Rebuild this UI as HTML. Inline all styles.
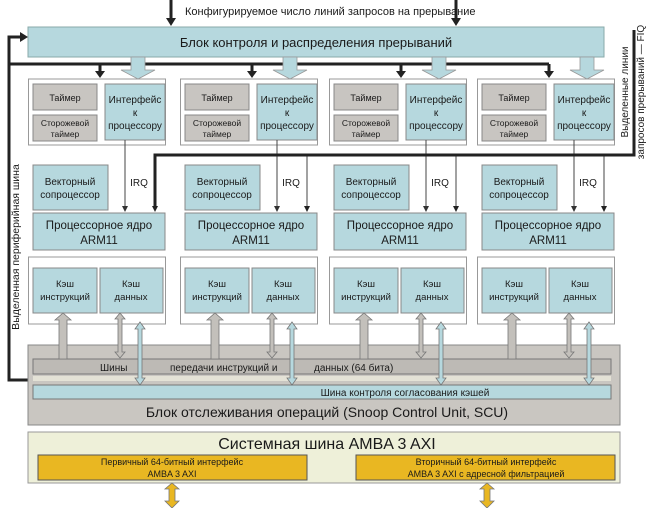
<!DOCTYPE html>
<html><head><meta charset="utf-8"><style>
html,body{margin:0;padding:0;background:#fff}
svg{display:block}
text{font-family:"Liberation Sans","DejaVu Sans",sans-serif;fill:#1a1a1a}
</style></head><body>
<svg width="650" height="508" viewBox="0 0 650 508" xmlns="http://www.w3.org/2000/svg">
<defs>
<g id="u">
<line x1="72" y1="64" x2="72" y2="72" stroke="#222" stroke-width="3"/><polygon points="67,71 77,71 72,78" fill="#222"/>
<polygon points="103,57 117,57 117,70 127,70 110,79 93,70 103,70" fill="#b6d8de" stroke="#999" stroke-width="0.8"/>
<rect x="0.5" y="79" width="137" height="66" fill="#fff" stroke="#999"/>
<rect x="5" y="84" width="64" height="26" fill="#c8c5c1" stroke="#888"/>
<rect x="5" y="115" width="64" height="26" fill="#c8c5c1" stroke="#888"/>
<rect x="77" y="84" width="60" height="56" fill="#b6d8de" stroke="#888"/>
<text x="37" y="101" font-size="9" text-anchor="middle">Таймер</text>
<text x="37" y="126" font-size="8.5" text-anchor="middle">Сторожевой</text>
<text x="37" y="137" font-size="8.5" text-anchor="middle">таймер</text>
<text x="107" y="103" font-size="10" text-anchor="middle">Интерфейс</text>
<text x="107" y="116" font-size="10" text-anchor="middle">к</text>
<text x="107" y="129" font-size="10" text-anchor="middle">процессору</text>
<line x1="97" y1="140" x2="97" y2="207" stroke="#444" stroke-width="1"/><polygon points="94,206 100,206 97,212" fill="#333"/>
<line x1="127" y1="155" x2="127" y2="207" stroke="#444" stroke-width="1"/><polygon points="124,206 130,206 127,212" fill="#222"/>
<text x="111" y="186" font-size="10" text-anchor="middle">IRQ</text>
<rect x="5" y="165" width="75" height="45" fill="#b6d8de" stroke="#888"/>
<text x="42" y="185" font-size="10" text-anchor="middle">Векторный</text>
<text x="42" y="198" font-size="10" text-anchor="middle">сопроцессор</text>
<rect x="5" y="213" width="132" height="37" fill="#b6d8de" stroke="#888"/>
<text x="71" y="229" font-size="11.5" text-anchor="middle">Процессорное ядро</text>
<text x="71" y="244" font-size="11.5" text-anchor="middle">ARM11</text>
<rect x="0.5" y="257" width="137" height="67" fill="#fff" stroke="#999"/>
<rect x="5" y="268" width="64" height="45" fill="#b6d8de" stroke="#888"/>
<rect x="72" y="268" width="63" height="45" fill="#b6d8de" stroke="#888"/>
<text x="37" y="287" font-size="9.5" text-anchor="middle">Кэш</text>
<text x="37" y="300" font-size="9.5" text-anchor="middle">инструкций</text>
<text x="103" y="287" font-size="9.5" text-anchor="middle">Кэш</text>
<text x="103" y="300" font-size="9.5" text-anchor="middle">данных</text>
</g>
<g id="a">
<polygon points="31,320 27,320 35,313 43,320 39,320 39,359 31,359" fill="#c3c0bb" stroke="#777" stroke-width="0.8"/>
<polygon points="90,319 87,319 92,313 97,319 94,319 94,352 97,352 92,358 87,352 90,352" fill="#c3c0bb" stroke="#777" stroke-width="0.8"/>
<polygon points="110,329 107,329 112,322 117,329 114,329 114,378 117,378 112,385 107,378 110,378" fill="#b6d8de" stroke="#777" stroke-width="0.8"/>
</g>
</defs>
<!-- top arrows -->
<line x1="171" y1="0" x2="171" y2="20" stroke="#222" stroke-width="3"/><polygon points="166,18 176,18 171,26" fill="#222"/>
<line x1="456" y1="0" x2="456" y2="20" stroke="#222" stroke-width="3"/><polygon points="451,18 461,18 456,26" fill="#222"/>
<text x="185" y="15" font-size="11">Конфигурируемое число линий запросов на прерывание</text>
<!-- control block -->
<rect x="28" y="27" width="576" height="30" fill="#b6d8de" stroke="#8aa" stroke-width="1"/>
<text x="316" y="47" font-size="13" text-anchor="middle">Блок контроля и распределения прерываний</text>
<!-- left peripheral bus -->
<polyline points="28,380 9,380 9,37 22,37" fill="none" stroke="#222" stroke-width="3"/>
<polygon points="20,32 28,37 20,42" fill="#222"/>
<text transform="translate(19,247) rotate(-90)" font-size="10.5" text-anchor="middle">Выделенная периферийная шина</text>
<!-- thick line y=64 -->
<line x1="9" y1="64" x2="549" y2="64" stroke="#222" stroke-width="3"/>
<text transform="translate(628,92) rotate(-90)" font-size="10" text-anchor="middle">Выделенные линии</text>
<text transform="translate(644,92) rotate(-90)" font-size="10" text-anchor="middle">запросов прерываний — FIQ</text>

<!-- SCU -->
<rect x="28" y="345" width="592" height="80" fill="#c9c6c1" stroke="#888"/>
<rect x="33" y="359" width="578" height="15" fill="#bdbab5" stroke="#777"/>
<rect x="33" y="376" width="578" height="5" fill="#e4e2d6"/>
<rect x="33" y="385" width="578" height="14" fill="#b6d8de" stroke="#777"/>
<text x="100" y="371" font-size="10">Шины</text>
<text x="170" y="371" font-size="10">передачи инструкций и</text>
<text x="314" y="371" font-size="10">данных (64 бита)</text>
<text x="405" y="396" font-size="10" text-anchor="middle">Шина контроля согласования кэшей</text>
<text x="327" y="417" font-size="14" text-anchor="middle">Блок отслеживания операций (Snoop Control Unit, SCU)</text>

<!-- System bus -->
<rect x="28" y="432" width="592" height="51" fill="#eef0d9" stroke="#999"/>
<text x="327" y="449" font-size="16" text-anchor="middle">Системная шина AMBA 3 AXI</text>
<rect x="38" y="455" width="269" height="25" fill="#e9b722" stroke="#555"/>
<rect x="356" y="455" width="259" height="25" fill="#e9b722" stroke="#555"/>
<text x="172" y="465" font-size="9" text-anchor="middle">Первичный 64-битный интерфейс</text>
<text x="172" y="477" font-size="9" text-anchor="middle">AMBA 3 AXI</text>
<text x="486" y="465" font-size="9" text-anchor="middle">Вторичный 64-битный интерфейс</text>
<text x="486" y="477" font-size="9" text-anchor="middle">AMBA 3 AXI с адресной фильтрацией</text>
<g fill="#e9b722" stroke="#777" stroke-width="0.8">
<polygon points="169,489 165,489 172,483 179,489 175,489 175,501 179,501 172,508 165,501 169,501"/>
<polygon points="484,489 480,489 487,483 494,489 490,489 490,501 494,501 487,508 480,501 484,501"/>
</g>

<use href="#u" transform="translate(28,0)"/>
<use href="#u" transform="translate(180,0)"/>
<use href="#u" transform="translate(329,0)"/>
<use href="#u" transform="translate(477,0)"/>
<!-- FIQ line -->
<polyline points="155,207 155,155 634,155 634,30" fill="none" stroke="#222" stroke-width="3"/>
<use href="#a" transform="translate(28,0)"/>
<use href="#a" transform="translate(180,0)"/>
<use href="#a" transform="translate(329,0)"/>
<use href="#a" transform="translate(477,0)"/>
</svg>
</body></html>
